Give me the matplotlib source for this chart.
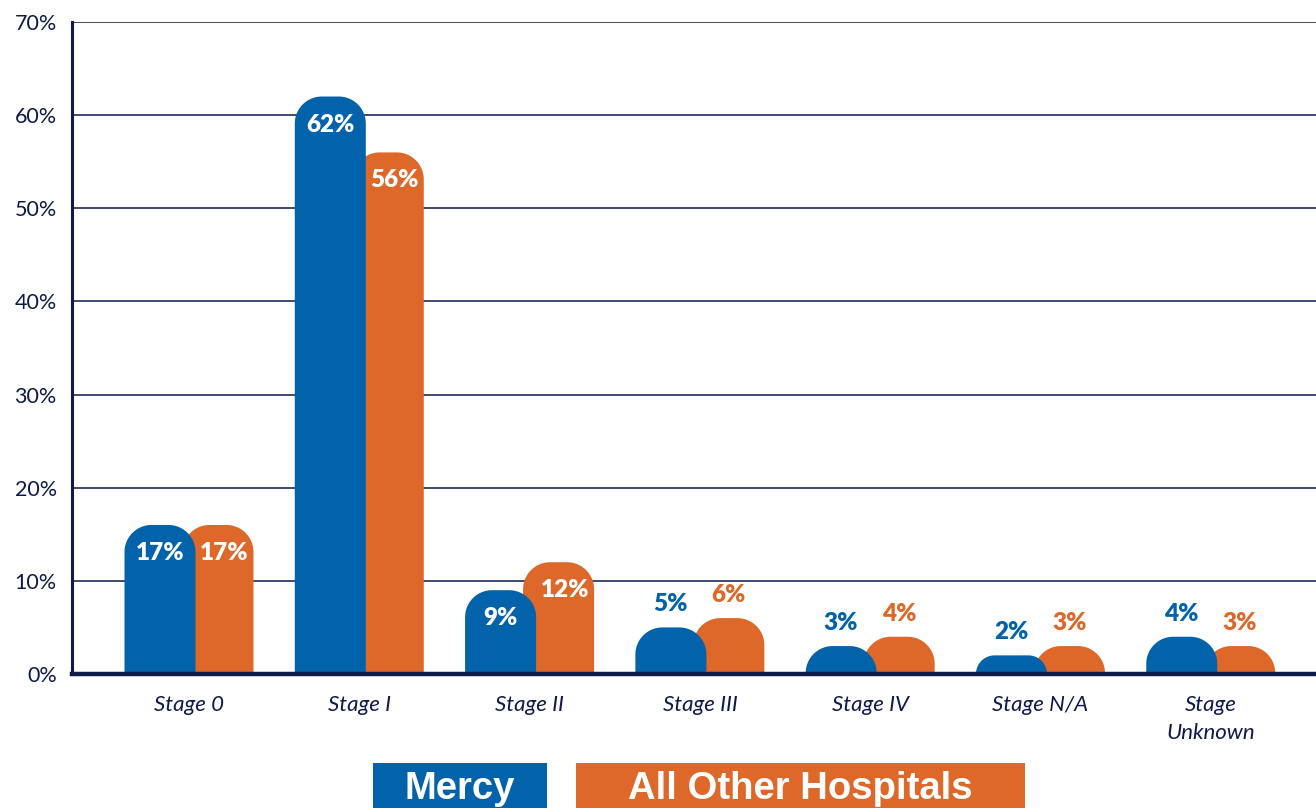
import numpy as np
import matplotlib
matplotlib.use("Agg")
import matplotlib.pyplot as plt
from matplotlib.path import Path
from matplotlib.patches import PathPatch, Rectangle

categories = ["Stage 0", "Stage I", "Stage II", "Stage III", "Stage IV", "Stage N/A", "Stage\nUnknown"]
mercy = [16, 62, 9, 5, 3, 2, 4]
others = [16, 56, 12, 6, 4, 3, 3]
mercy_labels = ["17%", "62%", "9%", "5%", "3%", "2%", "4%"]
others_labels = ["17%", "56%", "12%", "6%", "4%", "3%", "3%"]
series_names = ["Mercy", "All Other Hospitals"]
yticks = [0, 10, 20, 30, 40, 50, 60, 70]

BLUE = "#0262AA"
ORANGE = "#DD6829"
NAVY = "#0D1A4A"

W, H = 1316, 808
fig = plt.figure(figsize=(W / 100, H / 100), dpi=100)
ax_l, ax_r, ax_t, ax_b = 72, 1316, 22, 674
ax = fig.add_axes([ax_l / W, 1 - ax_b / H, (ax_r - ax_l) / W, (ax_b - ax_t) / H])

xmin, xmax = -0.687, 6.618
ax.set_xlim(xmin, xmax)
ax.set_ylim(0, 70)
px_x = (ax_r - ax_l) / (xmax - xmin)
px_y = (ax_b - ax_t) / 70.0

bw = 71 / px_x
off = 29 / px_x
r_px = 27


def rounded_bar(xc, h, color, z):
    x0, x1 = xc - bw / 2, xc + bw / 2
    rp = min(r_px, h * px_y)
    rx = rp / px_x
    ry = rp / px_y
    t = np.linspace(np.pi, np.pi / 2, 24)
    left = np.column_stack([x0 + rx + rx * np.cos(t), h - ry + ry * np.sin(t)])
    t2 = np.linspace(np.pi / 2, 0, 24)
    right = np.column_stack([x1 - rx + rx * np.cos(t2), h - ry + ry * np.sin(t2)])
    verts = np.vstack([[x0, 0], left, right, [x1, 0], [x0, 0]])
    codes = [Path.MOVETO] + [Path.LINETO] * (len(verts) - 2) + [Path.CLOSEPOLY]
    ax.add_patch(PathPatch(Path(verts, codes), facecolor=color, edgecolor="none", zorder=z))


lab_font = dict(family=["Lato", "DejaVu Sans"], fontsize=17.5, fontweight="heavy")
inside_off = 28 / px_y
above_off = 23 / px_y
for i in range(len(categories)):
    for vals, labs, sgn, col, z in [(others, others_labels, 1, ORANGE, 3), (mercy, mercy_labels, -1, BLUE, 4)]:
        xc = i + sgn * off
        h = vals[i]
        rounded_bar(xc, h, col, z)
        if h >= 8:
            ly = h - inside_off
            lx = xc
            if sgn > 0 and mercy[i] > ly:
                # centre on the visible part of the orange bar
                lx = ((i - off + bw / 2) + (xc + bw / 2)) / 2
            ax.text(lx, ly, labs[i], ha="center", va="center", color="white", zorder=6, **lab_font)
        else:
            ax.text(xc, h + above_off, labs[i], ha="center", va="center", color=col, zorder=6, **lab_font)

ax.set_yticks(yticks)
ax.set_yticklabels([f"{v}%" for v in yticks], fontsize=15.5, color=NAVY, family=["Lato", "DejaVu Sans"])
ax.set_xticks(range(len(categories)))
ax.set_xticklabels(categories, fontsize=16, color=NAVY, style="italic", family=["Lato", "DejaVu Sans"],
                   linespacing=1.5, va="top")
ax.tick_params(axis="both", length=0)
ax.tick_params(axis="y", pad=11)
ax.tick_params(axis="x", pad=15)
for yv in yticks[1:]:
    ax.axhline(yv, color=NAVY, lw=1.1, zorder=1)
for s in ["top", "right"]:
    ax.spines[s].set_visible(False)
ax.spines["left"].set_color(NAVY)
ax.spines["left"].set_linewidth(2.2)
ax.spines["bottom"].set_color(NAVY)
ax.spines["bottom"].set_linewidth(3.2)
ax.spines["bottom"].set_zorder(7)

# legend boxes
leg_font = dict(family=["Liberation Sans Narrow", "Liberation Sans", "DejaVu Sans"], fontsize=27.5,
                fontweight="bold", color="white")
for (x0, x1, col, name) in [(373, 547, BLUE, series_names[0]), (576, 1025, ORANGE, series_names[1])]:
    fig.patches.append(Rectangle((x0 / W, 0), (x1 - x0) / W, 45 / H, transform=fig.transFigure,
                                 facecolor=col, edgecolor="none"))
    fig.text((x0 + x1) / 2 / W, 19 / H, name, ha="center", va="center", **leg_font)

fig.savefig("out.png", dpi=100)
